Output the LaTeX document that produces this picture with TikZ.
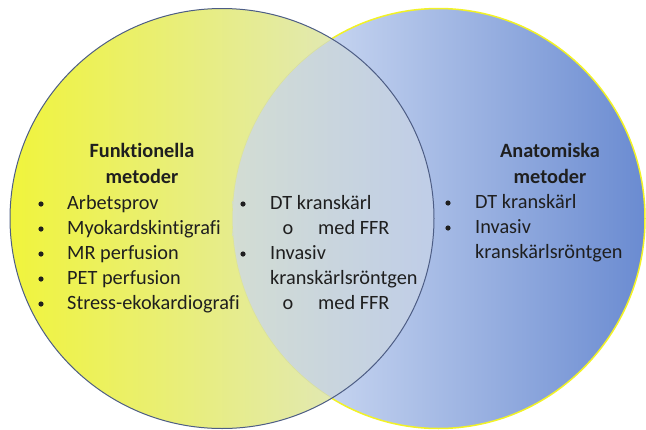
\documentclass[tikz,border=0pt]{standalone}
\usepackage{fontspec}
\setmainfont{Carlito}[Ligatures=NoCommon]
\usepackage{tikz}
\usepackage{xcolor}

\definecolor{funkyellow}{HTML}{F0F43C}
\definecolor{funkmid}{HTML}{E5EA9E}
\definecolor{funkpale}{HTML}{DDE5D6}
\definecolor{funkedge}{HTML}{4D5D85}
\definecolor{anatlight}{HTML}{E1EAF9}
\definecolor{anatmid}{HTML}{D5E0F5}
\definecolor{anatdark}{HTML}{6A8BD1}
\definecolor{anatedge}{HTML}{F2F226}
\definecolor{overlapl}{HTML}{D3DDD3}
\definecolor{overlapr}{HTML}{BFCDE8}

\tikzset{
	txt/.style={inner sep=0pt, text=black!88, font=\fontsize{20.3}{25}\selectfont},
	item/.style={txt, anchor=base west},
	sub/.style={txt, anchor=base},
	dot/.style={circle, fill=black!88, inner sep=0pt, minimum size=5.2pt},
	head/.style={txt, anchor=base, font=\fontsize{20.3}{25}\selectfont\bfseries},
}

\begin{document}
\begin{tikzpicture}[x=1pt, y=-1pt]
	\useasboundingbox (0,0) rectangle (646,429);
	\def\funk{(222,218.5) ellipse [x radius=212, y radius=210]}
	\def\anat{(438.5,218.5) ellipse [x radius=206.5, y radius=210]}
	% the two sets
	\shade[left color=anatlight, middle color=anatmid, right color=anatdark] \anat;
	\draw[line width=1.5pt, anatedge] \anat;
	\shade[left color=funkyellow, middle color=funkmid, right color=funkpale] \funk;
	\begin{scope}
		\clip \funk;
		\clip \anat;
		\shade[left color=overlapl, right color=overlapr] (230,0) rectangle (436,429);
		\draw[line width=1.2pt, anatedge, opacity=0.35] \anat;
	\end{scope}
	\draw[line width=1pt, funkedge] \funk;
	% headings
	\node[head] (funktitle) at (142,157) {Funktionella};
	\node[head] (funktitle2) at (142,183) {metoder};
	\node[head] (anattitle) at (550,157) {Anatomiska};
	\node[head] (anattitle2) at (550,183) {metoder};
	% left list
	\foreach \txt [count=\i] in {Arbetsprov, Myokardskintigrafi, MR perfusion, PET perfusion, Stress-ekokardiografi}
	{
		\node[dot] (fdot\i) at (41,179+25*\i) {};
		\node[item] (fitem\i) at (67,184+25*\i) {\txt};
	}
	% both
	\node[dot] (bdot1) at (243,204) {};
	\node[item] (bitem1) at (270,209) {DT kranskärl};
	\node[sub] (bsub1) at (288,234) {o};
	\node[item] (bitem2) at (318,234) {med FFR};
	\node[dot] (bdot2) at (243,254) {};
	\node[item] (bitem3) at (270,259) {Invasiv};
	\node[item] (bitem4) at (270,284) {kranskärlsröntgen};
	\node[sub] (bsub2) at (288,309) {o};
	\node[item] (bitem5) at (318,309) {med FFR};
	% right list
	\node[dot] (adot1) at (448,203) {};
	\node[item] (aitem1) at (475,208) {DT kranskärl};
	\node[dot] (adot2) at (448,228) {};
	\node[item] (aitem2) at (475,233) {Invasiv};
	\node[item] (aitem3) at (475,258) {kranskärlsröntgen};
\end{tikzpicture}
\end{document}
